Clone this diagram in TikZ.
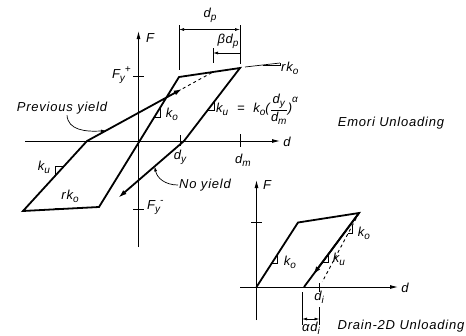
\documentclass[tikz,border=0pt]{standalone}
\usepackage{amsmath}
\usepackage{fontspec}
\setmainfont{Liberation Sans}[LetterSpace=6]
\usetikzlibrary{arrows.meta,calc}
\newcommand\sbs[2]{#1\raisebox{-3pt}{\fontsize{10}{10}\selectfont #2}}
\newcommand\supsb[3]{#1\raisebox{-3pt}{\fontsize{10}{10}\selectfont #2}\raisebox{6pt}{\fontsize{10}{10}\selectfont #3}}

\begin{document}
\begin{tikzpicture}[
  x=1pt, y=-1pt,
  every node/.style={font=\fontsize{13}{15}\selectfont\itshape, inner sep=1pt},
  axis/.style={line width=0.9pt, -{Latex[length=8pt,width=4pt]}},
  loop/.style={line width=1.8pt},
  fine/.style={line width=0.7pt},
  dimarrow/.style={line width=0.7pt, {Latex[length=5pt,width=3pt]}-{Latex[length=5pt,width=3pt]}},
  leader/.style={line width=0.7pt, -{Latex[length=5pt,width=3pt]}},
  gap/.style={line width=0.9pt, dash pattern=on 3pt off 3pt}
]
\useasboundingbox (0,0) rectangle (466,335);

% Emori unloading
\coordinate (ew) at (25,141);
\coordinate (ee) at (280,141);
\coordinate (es) at (138.5,247);
\coordinate (en) at (138.5,31);
\draw[axis] (ew) -- (ee);
\draw[axis] (es) -- (en);
\node (d1) at (287,142) {d};
\node (f1) at (150,38) {F};

\draw[fine] (133,76) -- (144,76);
\draw[fine] (133,209) -- (144,209);
\draw[fine] (180,135) -- (180,146);
\draw[fine] (240.5,134) -- (240.5,147);
\node[anchor=east] (fyp) at (132,75) {\supsb{F}{y}{+}};
\node[anchor=west] (fym) at (146,208) {\supsb{F}{y}{-}};
\node (dy) at (180,157) {\sbs{d}{y}};
\node (dm) at (243,160) {\sbs{d}{m}};

\coordinate (yA) at (179,77);
\coordinate (mB) at (240,68);
\coordinate (kn) at (184,141);
\coordinate (nE) at (118,198);
\coordinate (lL) at (99,207);
\coordinate (lC) at (23,211);
\coordinate (pP) at (87,141);
\coordinate (pQ) at (213,72);
\coordinate (pR) at ($(pP)!0.76!(pQ)$);
\draw[loop, {Latex[length=9pt,width=5pt]}-{Latex[length=9pt,width=5pt]}]
  (nE) -- (kn) -- (mB) -- (yA) -- (lL) -- (lC) -- (pP) -- (pR);
\draw[gap] (pR) -- (pQ);

% d_p and beta d_p
\draw[fine] (179,25) -- (179,70);
\draw[fine] (240,25) -- (240,64);
\draw[dimarrow] (179,29.5) -- (240,29.5);
\node (dp) at (210,15) {\sbs{d}{p}};
\draw[fine] (213,48) -- (213,63);
\draw[fine, -{Latex[length=5pt,width=3pt]}] (240,53) -- (213,53);
\node (bdp) at (228,41) {β\sbs{d}{p}};

% slopes
\draw[fine] ($(lL)!0.69!(yA)$) -| ($(lL)!0.77!(yA)$);
\node (ko1) at (172,114) {\sbs{k}{o}};
\draw[fine] ($(kn)!0.42!(mB)$) -| ($(kn)!0.54!(mB)$);
\node[anchor=west] (kuform) at (215,109)
  {\sbs{k}{u}\ \ =\ \ \sbs{k}{o}($\dfrac{\text{\sbs{d}{y}}}{\text{\sbs{d}{m}}}$)\raisebox{10pt}{\fontsize{10}{10}\selectfont α}};
\draw[fine] ($(lC)!0.51!(pP)$) |- ($(lC)!0.64!(pP)$);
\node (ku2) at (44,167) {\sbs{k}{u}};
\draw[fine] ($(lL)!0.579!(lC)$) |- ($(lL)!0.276!(lC)$);
\node (rko2) at (70,196) {r\sbs{k}{o}};
\coordinate (r1) at (245,67);
\coordinate (r2) at (280,63);
\draw[fine] (r1) -- (r2);
\draw[fine] ($(r1)!0.5!(r2)$) -| (r2);
\node[anchor=west] (rko1) at (280,68) {r\sbs{k}{o}};

% leaders
\node (prev) at (62,108) {Previous yield};
\coordinate (pv) at ($(pP)!0.15!(pQ)$);
\draw[leader] ([xshift=5pt]prev.south) .. controls (68,130) and (85,132) .. (pv);
\node[anchor=west] (noy) at (178,185) {No yield};
\coordinate (ny) at ($(nE)!0.555!(kn)$);
\draw[leader] (noy.west) .. controls (165,185) and (157,178) .. (ny);

\node (emori) at (391,123) {Emori Unloading};

% Drain-2D unloading
\coordinate (dw) at (240,287);
\coordinate (de) at (398,287);
\coordinate (ds) at (256.5,320);
\coordinate (dn) at (256.5,180);
\draw[axis] (dw) -- (de);
\draw[axis] (ds) -- (dn);
\node (d2) at (405,288) {d};
\node (f2) at (267,185) {F};
\draw[fine] (251,222.5) -- (262,222.5);

\coordinate (o2) at (256.5,287);
\coordinate (dD) at (298,222.5);
\coordinate (dB) at (359,213);
\coordinate (dU) at (304,287);
\coordinate (dI) at (319.5,287);
\draw[loop] (o2) -- (dD) -- (dB) -- (dU);
\draw[loop, -{Latex[length=9pt,width=5pt]}] (dB) -- ($(dB)!0.84!(dU)$);
\draw[gap] (dB) -- ($(dB)!0.93!(dI)$);

\draw[fine] (319.5,283) -- (319.5,292);
\node (di) at (319,297) {\sbs{d}{i}};
\draw[fine] (302,292) -- (302,325);
\draw[fine] (319.5,307) -- (319.5,325);
\draw[dimarrow] (302,319) -- (319.5,319);
\node (adi) at (311,328) {α\sbs{d}{i}};

\draw[fine] ($(o2)!0.37!(dD)$) -| ($(o2)!0.5!(dD)$);
\node (ko3) at (290,262) {\sbs{k}{o}};
\draw[fine] ($(dB)!0.28!(dI)$) -| ($(dB)!0.16!(dI)$);
\node (ko4) at (364,233) {\sbs{k}{o}};
\draw[fine] ($(dB)!0.67!(dU)$) -| ($(dB)!0.56!(dU)$);
\node (ku3) at (339,259) {\sbs{k}{u}};

\node (drain) at (401,326) {Drain-2D Unloading};
\end{tikzpicture}
\end{document}
